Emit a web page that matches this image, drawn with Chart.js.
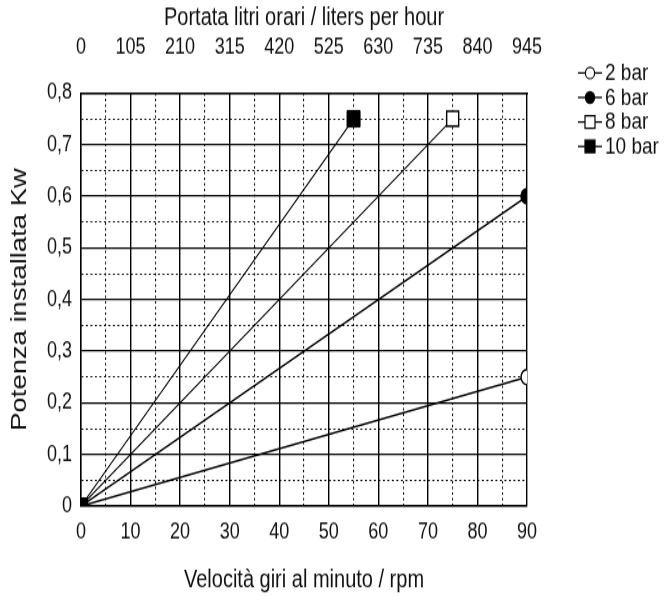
<!DOCTYPE html>
<html><head><meta charset="utf-8">
<script src="https://cdn.jsdelivr.net/npm/chart.js@4.4.1/dist/chart.umd.min.js"></script>
<style>
html,body{margin:0;padding:0;background:#fff;width:670px;height:596px;overflow:hidden}
#c{display:block;width:670px;height:596px}
</style>
</head><body>
<canvas id="c" width="670" height="477" style="width:670px;height:596px"></canvas>
<script>
// ---- data ----
const seriesLabels = ['2 bar', '6 bar', '8 bar', '10 bar'];
const rpm2 = [0, 90];  const kw2 = [0, 0.25];
const rpm6 = [0, 90];  const kw6 = [0, 0.6];
const rpm8 = [0, 75];  const kw8 = [0, 0.75];
const rpm10 = [0, 55]; const kw10 = [0, 0.75];
const rpmTicks = [0, 10, 20, 30, 40, 50, 60, 70, 80, 90];
const litersTicks = [0, 105, 210, 315, 420, 525, 630, 735, 840, 945];
const kwTicks = [0, 0.1, 0.2, 0.3, 0.4, 0.5, 0.6, 0.7, 0.8];

const FONT = "'Liberation Sans',Arial,sans-serif";

function pts(xs, ys) { return xs.map((x, i) => ({ x: x, y: ys[i] })); }

const styles = [
  { pointStyle: 'circle', fill: '#fff', radius: 6, width: 1.5 },
  { pointStyle: 'circle', fill: '#000', radius: 6, width: 1.5 },
  { pointStyle: 'rect', fill: '#fff', radius: 8.5, width: 1.4 },
  { pointStyle: 'rect', fill: '#000', radius: 9.2, width: 1.0 }
];
const series = [pts(rpm2, kw2), pts(rpm6, kw6), pts(rpm8, kw8), pts(rpm10, kw10)];

const datasets = series.map((d, i) => ({
  label: seriesLabels[i],
  data: d,
  order: 4 - i,
  borderColor: '#000',
  borderWidth: i < 2 ? 1.5 : 1.1,
  pointStyle: styles[i].pointStyle,
  pointBackgroundColor: styles[i].fill,
  pointBorderColor: '#000',
  pointBorderWidth: styles[i].width,
  pointRadius: i === 3 ? styles[i].radius : [0, styles[i].radius],
  pointHoverRadius: i === 3 ? styles[i].radius : [0, styles[i].radius],
  tension: 0,
  fill: false
}));

const near = (v, arr) => arr.some(t => Math.abs(t - v) < 1e-6);
const isMajorX = v => near(v, rpmTicks);
const isMajorY = v => near(v, kwTicks);

const legendPlugin = {
  id: 'sideLegend',
  afterDraw(chart) {
    const ctx = chart.ctx;
    ctx.save();
    seriesLabels.forEach((lab, i) => {
      const y = 58.4 + i * 19.6;
      ctx.strokeStyle = '#000';
      ctx.lineWidth = 1.3;
      ctx.beginPath(); ctx.moveTo(578, y); ctx.lineTo(602, y); ctx.stroke();
      const st = styles[i];
      ctx.fillStyle = st.fill;
      ctx.beginPath();
      if (st.pointStyle === 'circle') {
        ctx.arc(590, y, 4.6, 0, Math.PI * 2);
      } else {
        ctx.rect(585, y - 5, 10, 10);
      }
      ctx.fill();
      ctx.lineWidth = 1.2;
      ctx.stroke();
      ctx.fillStyle = '#111';
      ctx.font = "19px " + FONT;
      ctx.textAlign = 'left';
      ctx.textBaseline = 'middle';
      ctx.fillText(lab, 605, y + 0.5);
    });
    ctx.restore();
  }
};

new Chart(document.getElementById('c'), {
  type: 'line',
  data: { datasets: datasets },
  plugins: [legendPlugin],
  options: {
    responsive: false,
    animation: false,
    devicePixelRatio: 1,
    layout: { padding: { left: 0, right: 143, top: 0, bottom: 0 } },
    plugins: { legend: { display: false }, tooltip: { enabled: false } },
    scales: {
      x: {
        type: 'linear', position: 'bottom', min: 0, max: 90,
        afterFit: s => { s.height = 72; },
        ticks: {
          stepSize: 5, autoSkip: false, maxRotation: 0, padding: 10.5,
          color: '#111', font: { family: FONT, size: 18 },
          callback: v => isMajorX(v) ? String(v) : ''
        },
        grid: {
          drawTicks: false,
          color: ctx => isMajorX(ctx.tick.value) ? '#000' : '#111',
          lineWidth: ctx => isMajorX(ctx.tick.value) ? 1.4 : 1.1
        },
        border: {
          color: '#000', width: 1.4,
          dash: ctx => (ctx.tick && !isMajorX(ctx.tick.value)) ? [2, 2.5] : []
        },
        title: {
          display: true, text: 'Velocità giri al minuto / rpm', color: '#111',
          font: { family: FONT, size: 20 }, padding: { top: 1, bottom: 1 }
        }
      },
      x2: {
        type: 'linear', position: 'top', min: 0, max: 945,
        afterFit: s => { s.height = 74.4; },
        ticks: {
          stepSize: 52.5, autoSkip: false, maxRotation: 0, padding: 25.5,
          color: '#111', font: { family: FONT, size: 18 },
          callback: v => near(v, litersTicks) ? String(v) : ''
        },
        grid: { display: false, drawTicks: false },
        border: { color: '#000', width: 1.4 },
        title: {
          display: true, text: 'Portata litri orari / liters per hour', color: '#111',
          font: { family: FONT, size: 20 }, padding: { top: 2, bottom: 2 }
        }
      },
      y: {
        type: 'linear', position: 'left', min: 0, max: 0.8,
        afterFit: s => { s.width = 81; },
        ticks: {
          stepSize: 0.05, autoSkip: false, padding: 9,
          color: '#111', font: { family: FONT, size: 18 },
          callback: v => isMajorY(v) ? (Math.abs(v) < 1e-9 ? '0' : v.toFixed(1).replace('.', ',')) : ''
        },
        grid: {
          drawTicks: false,
          color: ctx => isMajorY(ctx.tick.value) ? '#000' : '#111',
          lineWidth: ctx => isMajorY(ctx.tick.value) ? 1.2 : 1.0
        },
        border: {
          color: '#000', width: 1.4,
          dash: ctx => (ctx.tick && !isMajorY(ctx.tick.value)) ? [2, 2.5] : []
        },
        title: {
          display: true, text: 'Potenza installata Kw', color: '#111',
          font: { family: FONT, size: 22 }, padding: { top: 7, bottom: 7 }
        }
      }
    }
  }
});
</script>
</body></html>
